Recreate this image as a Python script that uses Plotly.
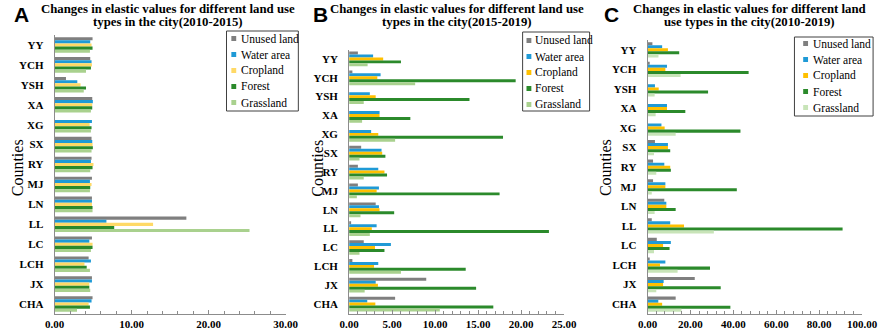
import plotly.graph_objects as go

# ---------------- data ----------------
counties = ["YY", "YCH", "YSH", "XA", "XG", "SX", "RY", "MJ", "LN", "LL", "LC", "LCH", "JX", "CHA"]
series_names = ["Unused land", "Water area", "Cropland", "Forest", "Grassland"]

unused_A = [4.92, 4.62, 1.47, 4.88, 0, 4.79, 4.79, 4.84, 4.84, 17.1, 4.84, 4.41, 4.84, 4.92]
water_A = [4.62, 4.79, 2.94, 4.96, 4.84, 4.88, 4.71, 4.58, 4.84, 6.72, 4.50, 4.71, 4.84, 4.79]
crop_A = [4.79, 4.84, 3.36, 4.88, 4.54, 4.92, 5.04, 4.79, 4.84, 12.78, 4.92, 3.87, 4.50, 4.41]
forest_A = [4.92, 4.71, 4.07, 4.88, 4.79, 4.96, 4.92, 4.62, 4.92, 7.73, 4.92, 4.16, 4.50, 4.58]
grass_A = [4.58, 4.07, 3.78, 4.71, 4.71, 4.79, 4.62, 4.58, 4.92, 25.3, 4.71, 4.58, 4.62, 2.90]

unused_B = [1.02, 0.38, 0, 0, 0, 1.40, 1.02, 1.02, 3.09, 0.16, 1.70, 0.38, 8.97, 5.35]
water_B = [2.79, 3.66, 2.41, 3.54, 2.56, 3.77, 3.39, 3.47, 3.47, 3.20, 4.86, 3.39, 3.09, 2.11]
crop_B = [3.96, 3.28, 3.09, 3.54, 3.39, 3.85, 4.11, 3.20, 3.54, 2.64, 3.01, 2.90, 3.35, 3.05]
forest_B = [6.03, 19.37, 14.0, 7.12, 17.9, 4.22, 4.41, 17.5, 5.24, 23.24, 4.11, 13.56, 14.77, 16.77]
grass_B = [2.15, 7.68, 1.70, 1.51, 5.35, 1.21, 1.70, 0.90, 1.32, 2.41, 1.21, 6.03, 1.81, 10.55]

unused_C = [2.26, 1.0, 0, 0, 0, 3.45, 2.56, 2.56, 7.8, 1.96, 4.3, 1.0, 22.0, 13.1]
water_C = [6.8, 9.05, 3.45, 9.05, 6.47, 9.5, 7.8, 8.3, 8.75, 10.56, 10.86, 8.3, 7.5, 5.0]
crop_C = [9.5, 8.3, 5.2, 9.05, 7.97, 9.5, 10.56, 8.3, 8.75, 17.0, 7.24, 5.8, 7.24, 6.8]
forest_C = [14.75, 47.1, 28.2, 17.6, 43.3, 10.56, 10.86, 41.6, 13.1, 90.9, 10.26, 29.1, 34.1, 38.6]
grass_C = [5.1, 15.4, 3.3, 3.77, 13.1, 3.0, 4.07, 1.96, 3.3, 30.9, 3.0, 14.0, 4.07, 15.8]

titles = [
    "Changes in elastic values for different land use<br>types in the city(2010-2015)",
    "Changes in elastic values for different land use<br>types in the city(2015-2019)",
    "Changes in elastic values for different land<br>use types in the city(2010-2019)",
]
panel_letters = ["A", "B", "C"]
x_ranges = [[0, 30], [0, 25], [0, 100]]
x_dticks = [10, 5, 20]
x_minor = [2, 1, 4]

# ---------------- style ----------------
W, H = 892, 333
GRAY = "#7f7f7f"
BLUE = "#1f9ad6"
FOREST = "#2b8a2b"
colors_A = [GRAY, BLUE, "#ffd966", FOREST, "#a9d18e"]
colors_B = [GRAY, BLUE, "#ffc000", FOREST, "#a9d18e"]
colors_C = [GRAY, BLUE, "#ffc000", FOREST, "#c8e4b8"]
SERIF = "Liberation Serif, Times New Roman, serif"
SANS = "Liberation Sans, Arial, sans-serif"

def px_x(p):
    return p / W

def px_y(p):
    return 1 - p / H

panels = [
    dict(data=[unused_A, water_A, crop_A, forest_A, grass_A], colors=colors_A,
         xdom=(46, 284), ytop=35, ybot=314, title_cx=163, letter_x=2,
         counties_x=8.5, leg=(223, 31, 297, 111), leg_mark=228, leg_text=236, leg_y0=38.5),
    dict(data=[unused_B, water_B, crop_B, forest_B, grass_B], colors=colors_B,
         xdom=(349.3, 570.7), ytop=49.5, ybot=313.5, title_cx=460, letter_x=310,
         counties_x=317, leg=(528, 32, 597, 111), leg_mark=532, leg_text=539, leg_y0=40.5),
    dict(data=[unused_C, water_C, crop_C, forest_C, grass_C], colors=colors_C,
         xdom=(656.7, 877.7), ytop=40, ybot=314, title_cx=762, letter_x=610,
         counties_x=614, leg=(808, 37, 889, 116), leg_mark=817, leg_text=825, leg_y0=43.5),
]

fig = go.Figure()
shapes = []
annotations = []

for i, p in enumerate(panels):
    ax = "" if i == 0 else str(i + 1)
    for name, vals, col in zip(series_names, p["data"], p["colors"]):
        fig.add_trace(go.Bar(
            y=counties, x=vals, name=name, orientation="h",
            marker=dict(color=col, line=dict(width=0)),
            xaxis="x" + ax, yaxis="y" + ax, showlegend=False,
        ))
    fig.layout["xaxis" + ax] = dict(
        domain=[px_x(p["xdom"][0]), px_x(p["xdom"][1])],
        anchor="y" + ax, range=x_ranges[i], dtick=x_dticks[i], tick0=0,
        tickformat=".2f", showgrid=False, zeroline=False,
        showline=True, linecolor="#8c8c8c", linewidth=1,
        ticks="inside", ticklen=4, tickcolor="#8c8c8c",
        minor=dict(dtick=x_minor[i], ticks="inside", ticklen=3, tickcolor="#8c8c8c"),
        tickfont=dict(family=SERIF, size=11, color="black", weight="bold"),
        fixedrange=True,
    )
    fig.layout["yaxis" + ax] = dict(
        domain=[px_y(p["ybot"]), px_y(p["ytop"])],
        anchor="x" + ax, autorange="reversed", type="category",
        showgrid=False, zeroline=False, showline=True, linecolor="#8c8c8c", linewidth=1,
        ticks="", ticklabelstandoff=8,
        tickfont=dict(family=SERIF, size=11, color="black", weight="bold"),
        fixedrange=True,
    )
    # title (two lines)
    for j, line in enumerate(titles[i].split("<br>")):
        annotations.append(dict(
            text="<b>" + line + "</b>", xref="paper", yref="paper",
            x=px_x(p["title_cx"]), y=px_y(8.5 + 14 * j), xanchor="center", yanchor="middle",
            showarrow=False, align="center",
            font=dict(family=SERIF, size=12.8, color="black"),
        ))
    # panel letter
    annotations.append(dict(
        text="<b>" + panel_letters[i] + "</b>", xref="paper", yref="paper",
        x=px_x(p["letter_x"]), y=px_y(14), xanchor="left", yanchor="middle",
        showarrow=False, font=dict(family=SANS, size=21, color="black"),
    ))
    # axis title "Counties"
    annotations.append(dict(
        text="Counties", xref="paper", yref="paper",
        x=px_x(p["counties_x"]), y=px_y(168), xanchor="center", yanchor="middle",
        textangle=-90, showarrow=False,
        font=dict(family=SERIF, size=16, color="black"),
    ))
    # legend box
    l, t, r, b = p["leg"]
    shapes.append(dict(type="rect", xref="paper", yref="paper",
                       x0=px_x(l), x1=px_x(r), y0=px_y(b), y1=px_y(t),
                       line=dict(color="#404040", width=1), fillcolor="white", layer="above"))
    for k, (name, col) in enumerate(zip(series_names, p["colors"])):
        yc = p["leg_y0"] + 16 * k
        shapes.append(dict(type="rect", xref="paper", yref="paper",
                           x0=px_x(p["leg_mark"]), x1=px_x(p["leg_mark"] + 5),
                           y0=px_y(yc + 2.5), y1=px_y(yc - 2.5),
                           line=dict(width=0), fillcolor=col, layer="above"))
        annotations.append(dict(
            text=name, xref="paper", yref="paper",
            x=px_x(p["leg_text"]), y=px_y(yc), xanchor="left", yanchor="middle",
            showarrow=False, font=dict(family=SERIF, size=11.5, color="black"),
        ))

fig.update_layout(
    width=W, height=H,
    margin=dict(l=0, r=0, t=0, b=0),
    paper_bgcolor="white", plot_bgcolor="white",
    barmode="group", bargap=0.22, bargroupgap=0,
    showlegend=False,
    shapes=shapes, annotations=annotations,
    font=dict(family=SERIF, color="black"),
)

fig.write_html(
    "out.html",
    config={"displayModeBar": False},
    post_script="document.body.style.margin='0';document.body.style.overflow='hidden';",
)
